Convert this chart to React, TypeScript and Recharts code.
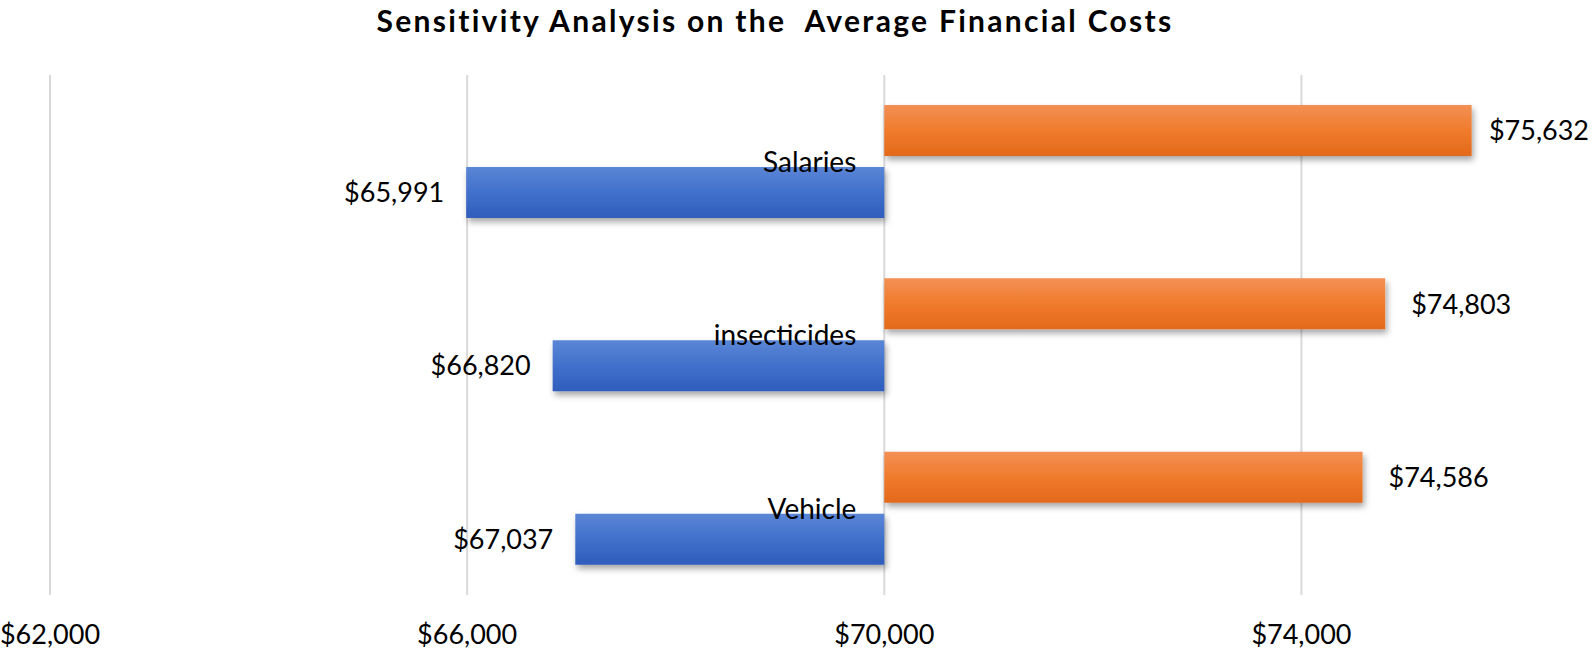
import React from 'react'
import { BarChart, Bar, XAxis, YAxis, CartesianGrid, LabelList } from 'recharts'

const categories = ['Salaries', 'insecticides', 'Vehicle']
const baseCost = 70000
const highCosts = [75632, 74803, 74586]
const lowCosts = [65991, 66820, 67037]
const xTicks = [62000, 66000, 70000, 74000]
const xDomain = [62000, 76700]

const FONT = 'Lato, "Open Sans", sans-serif'
const CHART_W = 1594

const data = categories.map((name, i) => ({
  name,
  high: [baseCost, highCosts[i]],
  low: [lowCosts[i], baseCost],
  highVal: highCosts[i],
  lowVal: lowCosts[i]
}))

const money = (v: number) => `$${Number(v).toLocaleString('en-US')}`

// grid only at the tick values, no line on the plot edge
const gridX = ({ offset }: any) =>
  xTicks.map((t) => offset.left + ((t - xDomain[0]) / (xDomain[1] - xDomain[0])) * offset.width)

const CategoryLabel = (props: any) => {
  const { x, y, width, value } = props
  return (
    <text x={x + width - 28} y={y + 5} textAnchor="end" fontSize={28} fontFamily={FONT} fill="#000">
      {value}
    </text>
  )
}

// like Excel: label sits right of the bar, pulled back in if it would leave the chart
const HighLabel = (props: any) => {
  const { x, y, width, height, value } = props
  const start = x + width + 26
  const fits = start + 100 < CHART_W - 4
  return (
    <text
      x={fits ? start : CHART_W - 5}
      y={y + height / 2}
      dy="0.36em"
      textAnchor={fits ? 'start' : 'end'}
      fontSize={27}
      fontFamily={FONT}
      fill="#000"
    >
      {money(value)}
    </text>
  )
}

export default function App() {
  return (
    <div style={{ position: 'absolute', left: 0, top: 0, width: 1594, height: 653, background: '#fff', overflow: 'hidden' }}>
      <div
        style={{
          position: 'absolute',
          left: 0,
          top: 2,
          width: 1550,
          textAlign: 'center',
          fontFamily: FONT,
          fontWeight: 700,
          fontSize: 30,
          lineHeight: '36px',
          letterSpacing: 2.3,
          color: '#000',
          whiteSpace: 'pre'
        }}
      >
        {'Sensitivity Analysis on the  Average Financial Costs'}
      </div>
      <BarChart
        width={CHART_W}
        height={653}
        data={data}
        layout="vertical"
        margin={{ top: 75, right: 11, left: 50, bottom: 0 }}
        barSize={51}
        barGap={11}
      >
        <defs>
          <linearGradient id="grad-high" x1="0" y1="0" x2="0" y2="1">
            <stop offset="0%" stopColor="#F39055" />
            <stop offset="50%" stopColor="#F07B2C" />
            <stop offset="100%" stopColor="#E3691A" />
          </linearGradient>
          <linearGradient id="grad-low" x1="0" y1="0" x2="0" y2="1">
            <stop offset="0%" stopColor="#5B86D6" />
            <stop offset="50%" stopColor="#4070CB" />
            <stop offset="100%" stopColor="#2F5DBD" />
          </linearGradient>
          <filter id="bar-shadow" x="-5%" y="-20%" width="115%" height="160%">
            <feDropShadow dx="2" dy="4" stdDeviation="3" floodColor="#000" floodOpacity="0.35" />
          </filter>
        </defs>
        <CartesianGrid horizontal={false} stroke="#D9D9D9" strokeWidth={2} verticalCoordinatesGenerator={gridX} />
        <XAxis
          type="number"
          domain={xDomain}
          ticks={xTicks}
          allowDataOverflow
          axisLine={false}
          tickLine={false}
          tickSize={0}
          tickMargin={30}
          height={58}
          tickFormatter={money}
          tick={{ fill: '#000', fontSize: 27, fontFamily: FONT }}
        />
        <YAxis type="category" dataKey="name" hide />
        <Bar dataKey="high" fill="url(#grad-high)" filter="url(#bar-shadow)" isAnimationActive={false}>
          <LabelList dataKey="highVal" content={HighLabel} />
        </Bar>
        <Bar dataKey="low" fill="url(#grad-low)" filter="url(#bar-shadow)" isAnimationActive={false}>
          <LabelList
            dataKey="lowVal"
            position="left"
            offset={22}
            formatter={money}
            fill="#000"
            fontSize={27}
            fontFamily={FONT}
          />
          <LabelList dataKey="name" content={CategoryLabel} />
        </Bar>
      </BarChart>
    </div>
  )
}
